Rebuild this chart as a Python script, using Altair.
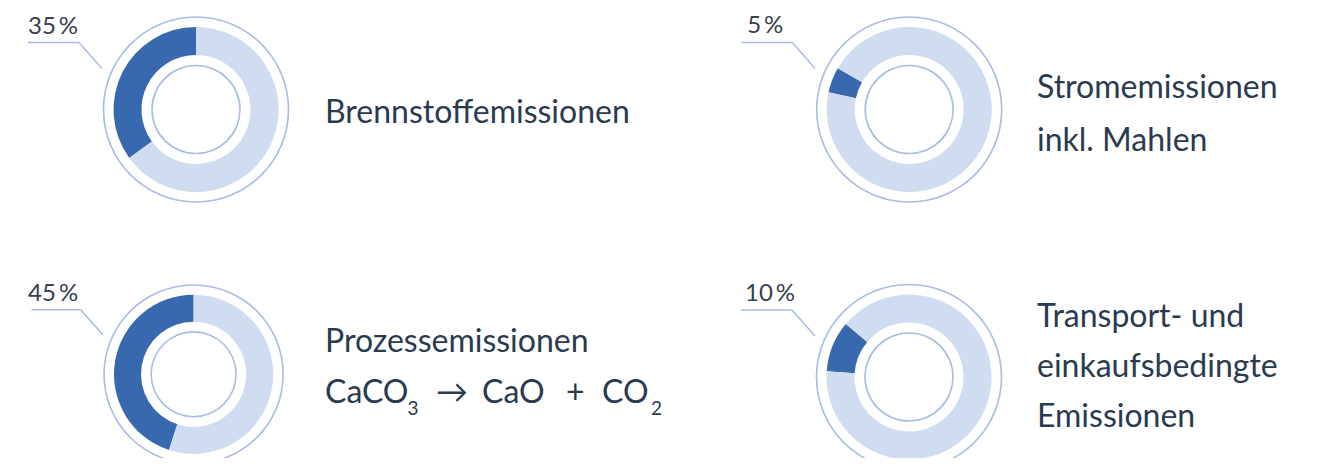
import altair as alt
import pandas as pd

# ---------------- data ----------------
panels = ["p1", "p2", "p3", "p4"]
shares = [35, 5, 45, 10]
pct_labels = ["35\u2009%", "5\u2009%", "45\u2009%", "10\u2009%"]
label_lines = [
    ["Brennstoffemissionen"],
    ["Stromemissionen", "inkl. Mahlen"],
    ["Prozessemissionen"],
    ["Transport- und", "einkaufsbedingte", "Emissionen"],
]
# formula pieces for panel 3, second line (text, is_subscript)
formula_parts = [("CaCO", False), ("3", True), ("\u2192", False), ("CaO", False),
                 ("+", False), ("CO", False), ("2", True)]

# ---------------- layout / style ----------------
W, H = 1303, 450
DARK = "#3869ae"
LIGHT = "#d0dcef"
LINE = "#a9bce3"
TXT = "#2a3a4f"
PCT_TXT = "#36404e"
FONT = "Lato"

# center x, center y, scale, end angle of dark slice (deg, clockwise from top)
geom = {
    "p1": dict(cx=188.0, cy=101.5, s=1.0, end=360, pct_dx=-168, pct_dy=-76),
    "p2": dict(cx=901.2, cy=101.5, s=1.0, end=300, pct_dx=-162, pct_dy=-76.5),
    "p3": dict(cx=185.6, cy=366.3, s=0.965, end=360, pct_dx=-165.5, pct_dy=-73),
    "p4": dict(cx=901.0, cy=369.0, s=1.0, end=310, pct_dx=-164, pct_dy=-76.3),
}
text_pos = {
    "p1": dict(x=317, ys=[115.3]),
    "p2": dict(x=1029, ys=[90.3, 142.7]),
    "p3": dict(x=317, ys=[344.3]),
    "p4": dict(x=1029, ys=[319.3, 369.3, 418.7]),
}
formula_x = [317, 399.5, 428, 474, 558, 594, 643]
formula_y_main = 395.3
formula_y_sub = 407.0

rows = []
for p, sh in zip(panels, shares):
    rows.append({"panel": p, "part": "Anteil", "value": sh, "k": 1})
    rows.append({"panel": p, "part": "Rest", "value": 100 - sh, "k": 0})
df = pd.DataFrame(rows)

PI = 3.141592653589793
layers = []


def one(p):
    return alt.Chart(df).transform_filter(alt.datum.panel == p).transform_filter(alt.datum.k == 0)


for i, p in enumerate(panels):
    g = geom[p]
    cx, cy, s = g["cx"], g["cy"], g["s"]
    a0 = g["end"] * PI / 180.0
    # outer thin circle
    layers.append(
        one(p).mark_arc(theta=0, theta2=2 * PI, radius=92.5 * s + 0.8, radius2=92.5 * s - 0.8, color=LINE)
        .encode(x=alt.value(cx), y=alt.value(cy))
    )
    # inner thin circle
    layers.append(
        one(p).mark_arc(theta=0, theta2=2 * PI, radius=44 * s + 0.8, radius2=44 * s - 0.8, color=LINE)
        .encode(x=alt.value(cx), y=alt.value(cy))
    )
    # donut ring
    layers.append(
        alt.Chart(df).transform_filter(alt.datum.panel == p)
        .mark_arc(radius=82.5 * s, radius2=54.5 * s)
        .encode(
            x=alt.value(cx), y=alt.value(cy),
            theta=alt.Theta("value:Q", stack=True,
                            scale=alt.Scale(domain=[0, 100], range=[a0, a0 + 2 * PI])),
            color=alt.Color("part:N", scale=alt.Scale(domain=["Anteil", "Rest"], range=[DARK, LIGHT]),
                            legend=None),
            order=alt.Order("k:Q"),
        )
    )
    # leader line
    x1, y1 = cx - 168 * s, cy - 67 * s
    x2, y2 = cx - 117 * s, cy - 67 * s
    x3, y3 = cx - 94 * s, cy - 41 * s
    layers.append(
        one(p).mark_rule(color=LINE, strokeWidth=1.5)
        .encode(x=alt.value(x1), x2=alt.value(x2), y=alt.value(y1), y2=alt.value(y2))
    )
    layers.append(
        one(p).mark_rule(color=LINE, strokeWidth=1.5)
        .encode(x=alt.value(x2), x2=alt.value(x3), y=alt.value(y2), y2=alt.value(y3))
    )
    # percent label
    layers.append(
        one(p).mark_text(text=pct_labels[i], font=FONT, fontSize=24, fontWeight=400, color=PCT_TXT,
                         align="left", baseline="alphabetic")
        .encode(x=alt.value(cx + g["pct_dx"]), y=alt.value(cy + g["pct_dy"]))
    )
    # category label lines
    tp = text_pos[p]
    for line, yy in zip(label_lines[i], tp["ys"]):
        layers.append(
            one(p).mark_text(text=line, font=FONT, fontSize=32, fontWeight=400, color=TXT,
                             align="left", baseline="alphabetic")
            .encode(x=alt.value(tp["x"]), y=alt.value(yy))
        )

# formula line of panel 3
for (t, sub), xx in zip(formula_parts, formula_x):
    layers.append(
        one("p3").mark_text(text=t, font=FONT, fontSize=19 if sub else 32, fontWeight=400, color=TXT,
                            align="left", baseline="alphabetic")
        .encode(x=alt.value(xx), y=alt.value(formula_y_sub if sub else formula_y_main))
    )

chart = (
    alt.layer(*layers)
    .resolve_scale(theta="independent")
    .properties(width=W, height=H, padding=0, autosize=alt.AutoSizeParams(type="none"))
    .configure_view(stroke=None)
)

chart.save("out.html", embed_options={"renderer": "svg", "actions": False})
